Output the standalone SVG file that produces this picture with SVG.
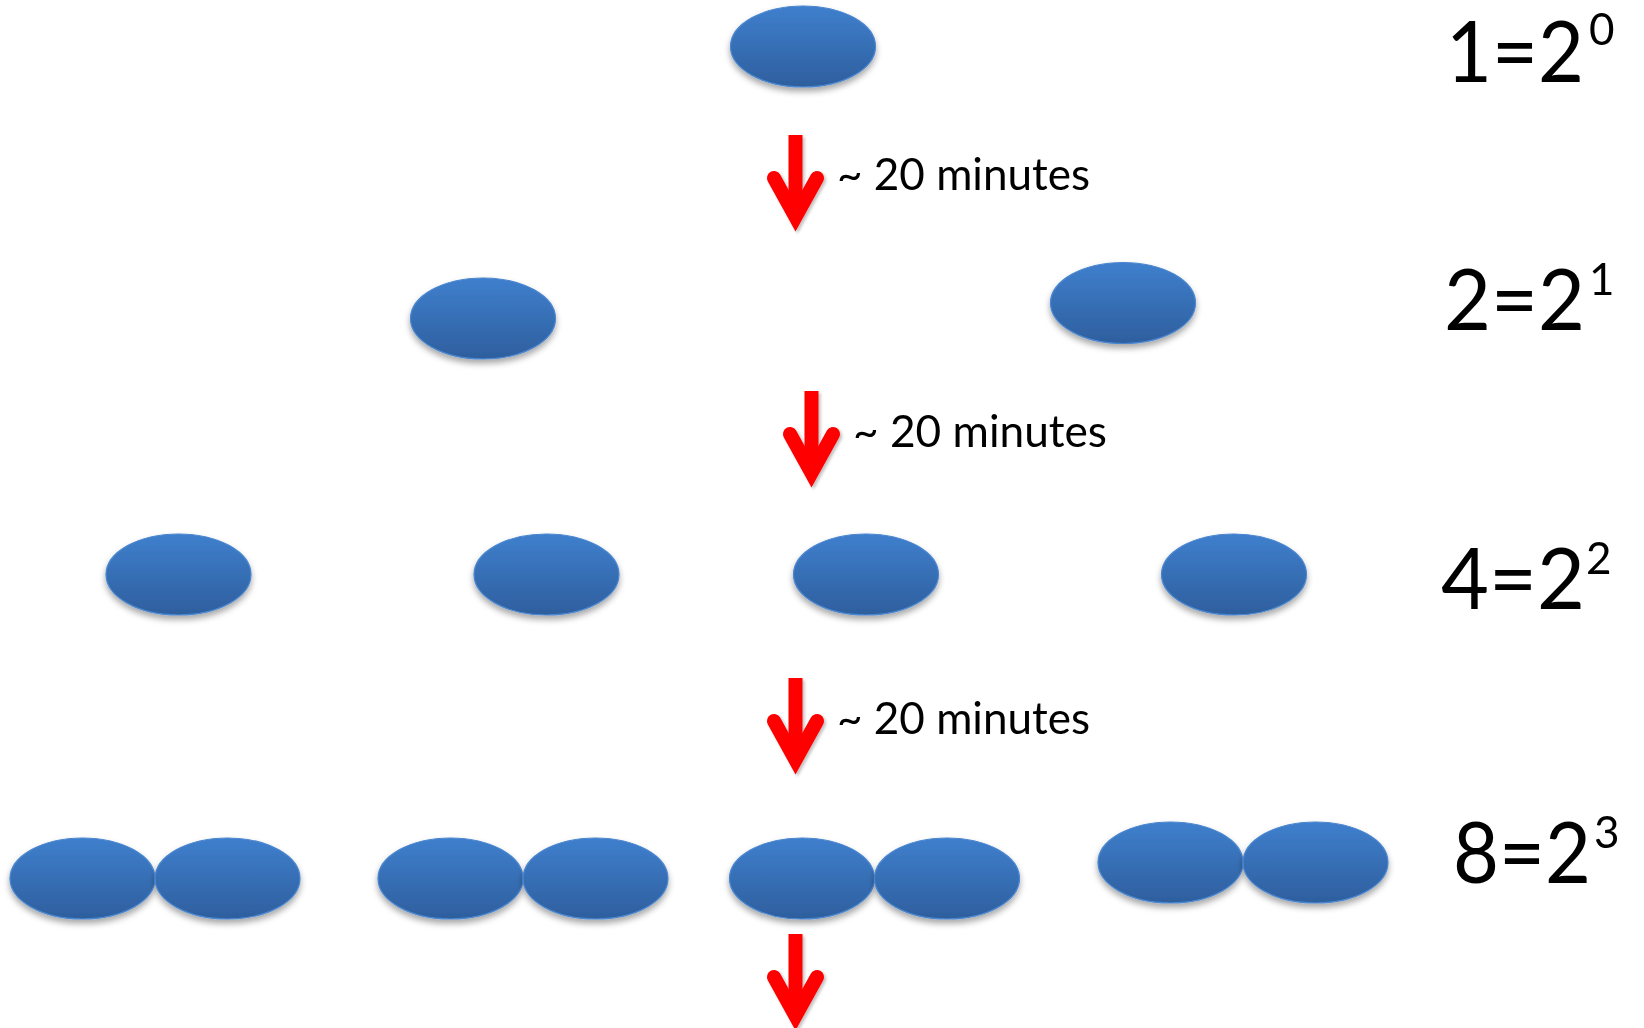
<svg xmlns="http://www.w3.org/2000/svg" width="1644" height="1028" viewBox="0 0 1644 1028">
  <defs>
    <linearGradient id="cellFill" x1="0" y1="0" x2="0" y2="1">
      <stop offset="0" stop-color="#3f7fcd"/>
      <stop offset="1" stop-color="#2e5f9e"/>
    </linearGradient>
    <filter id="shadow" x="-20%" y="-30%" width="140%" height="170%">
      <feDropShadow dx="0" dy="4" stdDeviation="3" flood-color="#000" flood-opacity="0.35"/>
    </filter>
    <filter id="arrowShadow" x="-50%" y="-20%" width="200%" height="140%">
      <feDropShadow dx="2" dy="2" stdDeviation="1.5" flood-color="#000" flood-opacity="0.25"/>
    </filter>
  </defs>
  <style>
    .cell { fill: url(#cellFill); stroke: #4a86cf; stroke-width: 1.2; filter: url(#shadow); }
    .shaft { fill: none; stroke: #ff0000; stroke-width: 14; stroke-linecap: butt; }
    .head { fill: none; stroke: #ff0000; stroke-width: 14; stroke-linecap: round; stroke-linejoin: miter; stroke-miterlimit: 10; }
    .time { font-family: Lato, "Liberation Sans", sans-serif; font-size: 45px; fill: #000; }
    .count { font-family: Lato, "Liberation Sans", sans-serif; font-size: 85px; fill: #000; }
    .exp { font-size: 44px; }
  </style>
  <rect width="1644" height="1028" fill="#ffffff"/>

  <!-- generation 0 -->
  <g id="gen0">
    <ellipse class="cell" cx="803" cy="46.5" rx="72.5" ry="40.5"/>
  </g>

  <!-- generation 1 -->
  <g id="gen1">
    <ellipse class="cell" cx="483" cy="318.5" rx="72.5" ry="40.5"/>
    <ellipse class="cell" cx="1123" cy="303" rx="72.5" ry="40.5"/>
  </g>

  <!-- generation 2 -->
  <g id="gen2">
    <ellipse class="cell" cx="178.5" cy="574.5" rx="72.5" ry="40.5"/>
    <ellipse class="cell" cx="546.5" cy="574.5" rx="72.5" ry="40.5"/>
    <ellipse class="cell" cx="866" cy="574.5" rx="72.5" ry="40.5"/>
    <ellipse class="cell" cx="1234" cy="574.5" rx="72.5" ry="40.5"/>
  </g>

  <!-- generation 3: dividing pairs -->
  <g id="gen3">
    <ellipse class="cell" cx="82.5" cy="878.5" rx="72.5" ry="40.5"/>
    <ellipse class="cell" cx="227.5" cy="878.5" rx="72.5" ry="40.5"/>
    <ellipse class="cell" cx="450.5" cy="878.5" rx="72.5" ry="40.5"/>
    <ellipse class="cell" cx="595.5" cy="878.5" rx="72.5" ry="40.5"/>
    <ellipse class="cell" cx="802" cy="878.5" rx="72.5" ry="40.5"/>
    <ellipse class="cell" cx="947" cy="878.5" rx="72.5" ry="40.5"/>
    <ellipse class="cell" cx="1170.5" cy="862.5" rx="72.5" ry="40.5"/>
    <ellipse class="cell" cx="1315.5" cy="862.5" rx="72.5" ry="40.5"/>
  </g>

  <!-- connectors: division steps -->
  <g id="connectors" filter="url(#arrowShadow)">
    <g transform="translate(795.5,135)">
      <path class="shaft" d="M0,0 V82"/>
      <path class="head" d="M-21.5,43 L0,82 L21.5,43"/>
    </g>
    <g transform="translate(811.5,391)">
      <path class="shaft" d="M0,0 V82"/>
      <path class="head" d="M-21.5,43 L0,82 L21.5,43"/>
    </g>
    <g transform="translate(795.5,678)">
      <path class="shaft" d="M0,0 V82"/>
      <path class="head" d="M-21.5,43 L0,82 L21.5,43"/>
    </g>
    <g transform="translate(795.5,934)">
      <path class="shaft" d="M0,0 V82"/>
      <path class="head" d="M-21.5,43 L0,82 L21.5,43"/>
    </g>
  </g>

  <!-- step labels -->
  <g id="step-labels">
    <text class="time" x="837" y="190" textLength="253" lengthAdjust="spacingAndGlyphs">~ 20 minutes</text>
    <text class="time" x="853" y="447" textLength="254" lengthAdjust="spacingAndGlyphs">~ 20 minutes</text>
    <text class="time" x="837" y="734" textLength="253" lengthAdjust="spacingAndGlyphs">~ 20 minutes</text>
  </g>

  <!-- population counts, each with its power of two -->
  <g id="counts">
    <text class="count" x="1446" y="82"><tspan textLength="138" lengthAdjust="spacingAndGlyphs">1=2</tspan><tspan class="exp" x="1589" y="45">0</tspan></text>
    <text class="count" x="1444" y="330"><tspan textLength="141" lengthAdjust="spacingAndGlyphs">2=2</tspan><tspan class="exp" x="1589" y="295">1</tspan></text>
    <text class="count" x="1441" y="609"><tspan textLength="144" lengthAdjust="spacingAndGlyphs">4=2</tspan><tspan class="exp" x="1586" y="574">2</tspan></text>
    <text class="count" x="1453" y="883"><tspan textLength="138" lengthAdjust="spacingAndGlyphs">8=2</tspan><tspan class="exp" x="1594" y="848">3</tspan></text>
  </g>
</svg>
